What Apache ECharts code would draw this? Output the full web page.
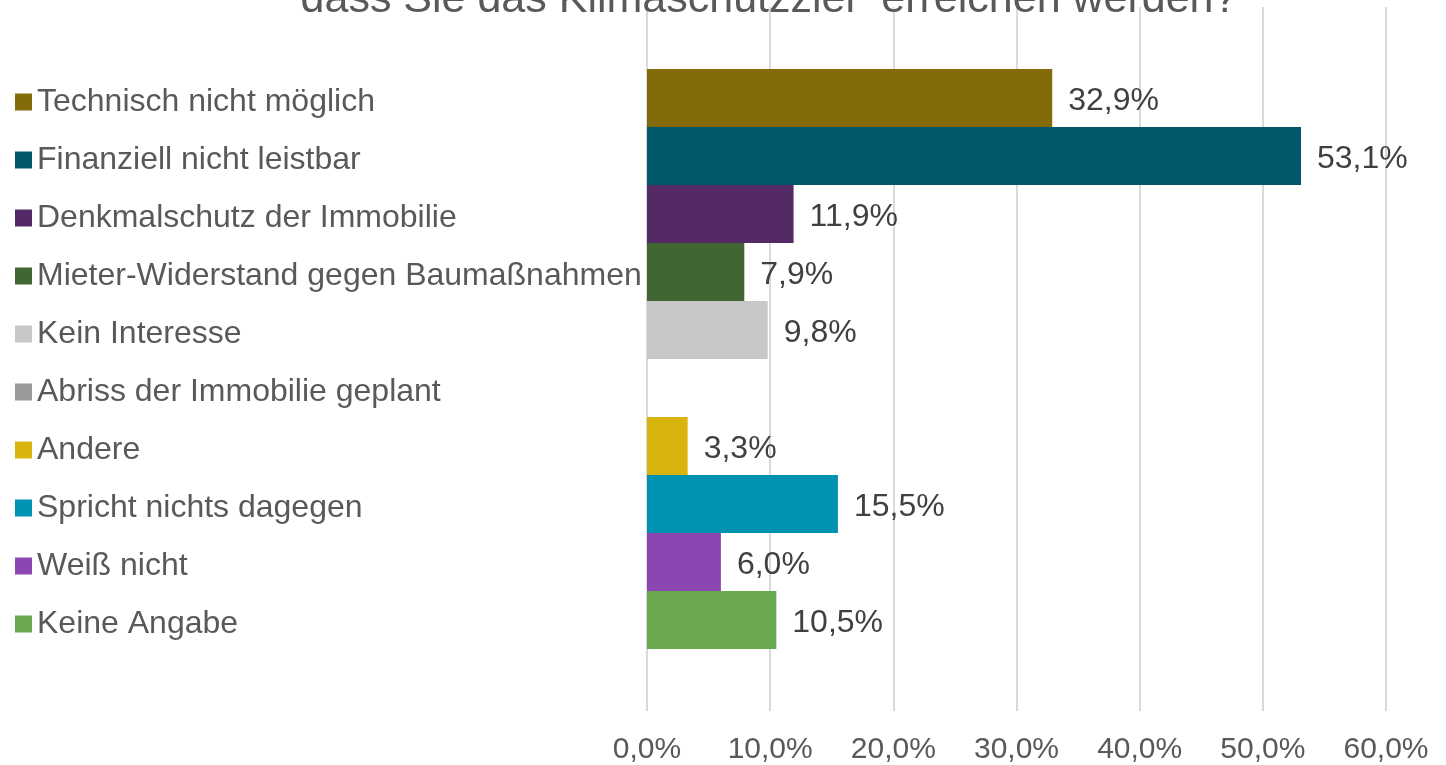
<!DOCTYPE html>
<html>
<head>
<meta charset="utf-8">
<script src="https://cdn.jsdelivr.net/npm/echarts@6/dist/echarts.min.js"></script>
<style>
  html, body { margin: 0; padding: 0; background: #fff; }
  #chart { width: 1446px; height: 765px; }
</style>
</head>
<body>
<div id="chart"></div>
<script>
// answers (one series each) and their share in percent
const answers = [
  'Technisch nicht möglich',
  'Finanziell nicht leistbar',
  'Denkmalschutz der Immobilie',
  'Mieter-Widerstand gegen Baumaßnahmen',
  'Kein Interesse',
  'Abriss der Immobilie geplant',
  'Andere',
  'Spricht nichts dagegen',
  'Weiß nicht',
  'Keine Angabe'
];
const shares = [32.9, 53.1, 11.9, 7.9, 9.8, 0, 3.3, 15.5, 6.0, 10.5];
const xTicks = [0, 10, 20, 30, 40, 50, 60];

const colors = ['#836B0A', '#00586A', '#542A66', '#426631', '#C8C8C8',
                '#999999', '#D9B30E', '#0093B1', '#8C46B2', '#6AA84F'];

const fmt = v => v.toFixed(1).replace('.', ',') + '%';
const font = '"Liberation Sans", Arial, sans-serif';

const chart = echarts.init(document.getElementById('chart'));

const option = {
  animation: false,
  textStyle: { fontFamily: font },
  title: {
    text: 'dass Sie das Klimaschutzziel“ erreichen werden?',
    left: 764,
    textAlign: 'center',
    top: -26,
    textStyle: { fontSize: 43, fontWeight: 'normal', color: '#595959', fontFamily: font }
  },
  legend: {
    orient: 'vertical',
    left: 10,
    top: 80,
    icon: 'rect',
    itemWidth: 17,
    itemHeight: 17,
    itemGap: 24,
    selectedMode: false,
    textStyle: { fontSize: 32, lineHeight: 34, color: '#595959', fontFamily: font },
    data: answers
  },
  grid: { left: 647, right: 60, top: 7, bottom: 54 },
  xAxis: {
    type: 'value',
    min: xTicks[0],
    max: xTicks[xTicks.length - 1],
    interval: 10,
    axisLine: { show: false },
    axisTick: { show: false },
    splitLine: { lineStyle: { color: '#DADADA', width: 2 } },
    axisLabel: { formatter: v => fmt(v), fontSize: 30, color: '#595959', margin: 24 }
  },
  yAxis: {
    type: 'category',
    data: [''],
    inverse: true,
    axisLine: { show: false },
    axisTick: { show: false },
    axisLabel: { show: false }
  },
  series: answers.map((name, i) => ({
    name: name,
    type: 'bar',
    barWidth: 58,
    barGap: '0%',
    itemStyle: { color: colors[i] },
    label: {
      show: shares[i] > 0,
      position: 'right',
      distance: 16,
      offset: [0, 3],
      fontSize: 32,
      color: '#404040',
      formatter: p => fmt(p.value)
    },
    data: [shares[i]]
  }))
};

chart.setOption(option);
</script>
</body>
</html>
